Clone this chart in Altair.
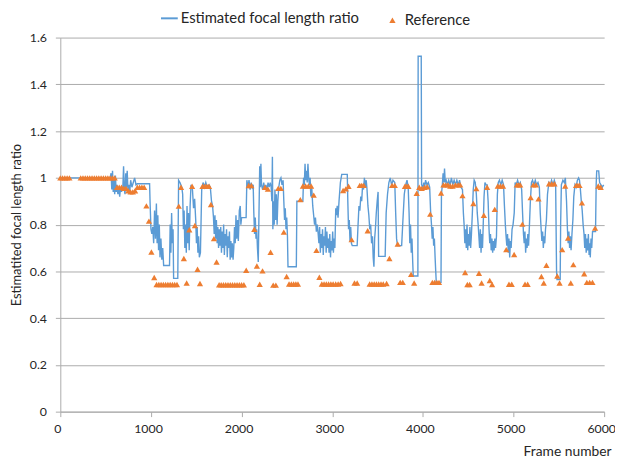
import altair as alt
import pandas as pd

# Estimated focal length ratio (frame, ratio)
est_points = [
    (0, 1.0), (550, 1.0),
    (560, 1.02), (568, 0.95), (576, 1.03), (584, 0.94), (592, 1.0), (600, 0.93), (608, 1.01), (616, 0.94),
    (625, 0.97), (635, 0.93), (645, 0.96), (655, 0.92), (665, 0.96), (675, 0.94), (690, 0.96), (698, 1.05),
    (706, 0.95), (714, 0.93), (722, 1.02), (730, 0.96), (738, 1.03), (746, 0.95), (756, 0.97), (766, 0.94),
    (776, 0.99), (790, 0.96), (805, 0.98), (820, 1.0), (835, 0.97), (850, 0.975),
    (985, 0.975), (990, 0.9), (1000, 0.78), (1010, 0.76), (1020, 0.79), (1030, 0.72), (1040, 0.86),
    (1050, 0.74), (1060, 0.89), (1068, 0.72), (1076, 0.84), (1084, 0.69), (1092, 0.8), (1100, 0.66),
    (1110, 0.74), (1120, 0.65), (1130, 0.7), (1140, 0.625),
    (1205, 0.625), (1212, 0.8), (1220, 0.68), (1228, 0.85), (1236, 0.72), (1244, 0.78), (1250, 0.57),
    (1296, 0.57), (1305, 0.99), (1320, 0.98), (1340, 0.96),
    (1350, 0.93), (1358, 0.78), (1366, 0.86), (1374, 0.7), (1382, 0.8), (1390, 0.68), (1398, 0.88),
    (1406, 0.72), (1414, 0.85), (1422, 0.69), (1432, 0.88), (1442, 0.97), (1458, 0.95), (1470, 0.87),
    (1482, 0.91), (1494, 0.82), (1502, 0.72), (1510, 0.79), (1518, 0.68), (1526, 0.75), (1534, 0.66),
    (1546, 0.68), (1560, 0.95), (1575, 0.98), (1590, 0.96), (1605, 0.98), (1620, 0.96), (1640, 0.97),
    (1655, 0.96), (1668, 0.9), (1680, 0.88), (1690, 0.83), (1698, 0.76), (1706, 0.84), (1714, 0.74),
    (1722, 0.82), (1730, 0.72), (1738, 0.79), (1746, 0.7), (1754, 0.78), (1762, 0.71), (1770, 0.79),
    (1778, 0.68), (1786, 0.77), (1794, 0.7), (1802, 0.8), (1810, 0.67), (1818, 0.76), (1826, 0.71),
    (1834, 0.78), (1842, 0.66), (1850, 0.75), (1858, 0.7), (1866, 0.77), (1874, 0.65), (1882, 0.73),
    (1890, 0.66), (1898, 0.72), (1906, 0.65), (1914, 0.7), (1922, 0.79), (1930, 0.72), (1938, 0.84),
    (1946, 0.74), (1956, 0.82), (1964, 0.73), (1975, 0.86), (1985, 0.88), (1992, 0.8), (2000, 0.83),
    (2050, 0.83), (2058, 0.99), (2070, 0.96), (2082, 0.99), (2094, 0.95), (2106, 0.98), (2118, 0.96),
    (2128, 0.97), (2135, 0.85), (2143, 0.76), (2151, 0.83), (2159, 0.74), (2167, 0.78), (2175, 0.7),
    (2184, 0.64), (2192, 0.85), (2200, 1.05), (2206, 0.96), (2213, 1.06), (2220, 0.97), (2232, 0.95),
    (2244, 0.98), (2256, 0.95), (2268, 0.97), (2280, 0.95), (2292, 0.98), (2304, 0.96), (2316, 0.98),
    (2326, 0.96), (2334, 0.9), (2340, 1.09), (2345, 0.78), (2352, 0.9), (2360, 0.8), (2368, 0.95),
    (2376, 0.82), (2384, 0.93), (2392, 0.8), (2400, 0.9), (2410, 0.96), (2422, 0.99), (2434, 1.0),
    (2446, 0.97), (2458, 0.99), (2466, 0.9), (2474, 0.82), (2482, 0.87), (2490, 0.78), (2498, 0.83),
    (2506, 0.75), (2512, 0.62), (2604, 0.62), (2610, 0.9), (2676, 0.9), (2684, 1.0), (2692, 0.97),
    (2700, 1.06), (2708, 0.99), (2716, 1.03), (2724, 0.98), (2732, 1.06), (2740, 1.0), (2748, 0.97),
    (2756, 1.0), (2764, 0.92), (2774, 0.96), (2785, 0.88), (2795, 0.84), (2805, 0.8), (2815, 0.83),
    (2825, 0.77), (2835, 0.8), (2845, 0.76), (2853, 0.72), (2861, 0.79), (2869, 0.68), (2877, 0.76),
    (2885, 0.7), (2893, 0.78), (2901, 0.67), (2909, 0.75), (2917, 0.71), (2925, 0.79), (2933, 0.68),
    (2941, 0.77), (2949, 0.7), (2957, 0.74), (2965, 0.68), (2973, 0.76), (2981, 0.66), (2989, 0.73),
    (2997, 0.69), (3005, 0.77), (3013, 0.68), (3021, 0.74), (3029, 0.7), (3039, 0.87), (3046, 0.84),
    (3055, 0.88), (3064, 0.83), (3075, 0.9), (3090, 0.98), (3105, 1.015), (3166, 1.015), (3172, 0.9),
    (3180, 0.78), (3188, 0.82), (3196, 0.73), (3204, 0.79), (3212, 0.72), (3221, 0.71), (3275, 0.71),
    (3285, 0.8), (3295, 0.88), (3305, 0.86), (3315, 0.92), (3325, 0.9), (3335, 0.97), (3345, 0.95),
    (3355, 1.0), (3365, 0.96), (3375, 0.99), (3384, 0.95), (3394, 0.88), (3404, 0.84), (3414, 0.78),
    (3424, 0.8), (3434, 0.72), (3444, 0.75), (3452, 0.66), (3460, 0.62), (3468, 0.74), (3476, 0.78),
    (3486, 0.85), (3496, 0.9), (3506, 0.94), (3512, 0.664), (3584, 0.664), (3595, 0.85), (3610, 0.93),
    (3625, 0.98), (3640, 1.0), (3655, 0.97), (3670, 0.99), (3690, 0.98), (3700, 0.85), (3710, 0.74),
    (3720, 0.71), (3766, 0.71), (3780, 0.82), (3795, 0.93), (3810, 0.97), (3825, 0.99), (3838, 0.96),
    (3848, 0.85), (3856, 0.72), (3864, 0.8), (3872, 0.68), (3880, 0.74), (3888, 0.64), (3894, 0.58),
    (3945, 0.58), (3948, 1.52), (3982, 1.52), (3986, 0.97), (4000, 0.96), (4010, 0.98), (4020, 0.96),
    (4030, 0.99), (4045, 0.97), (4060, 0.98), (4075, 0.96), (4085, 0.86), (4095, 0.8), (4103, 0.74),
    (4111, 0.79), (4119, 0.71), (4127, 0.74), (4135, 0.66), (4142, 0.6), (4148, 0.553), (4200, 0.553),
    (4205, 0.93), (4215, 0.97), (4223, 1.02), (4231, 0.98), (4239, 1.04), (4247, 0.98), (4257, 0.99),
    (4270, 0.97), (4285, 0.99), (4300, 0.97), (4315, 1.0), (4330, 0.97), (4345, 0.99), (4360, 0.97),
    (4375, 0.99), (4390, 0.97), (4405, 0.99), (4420, 0.96), (4437, 0.95), (4447, 0.85), (4455, 0.8),
    (4463, 0.72), (4471, 0.78), (4479, 0.7), (4487, 0.8), (4495, 0.69), (4503, 0.76), (4511, 0.71),
    (4519, 0.79), (4527, 0.7), (4535, 0.75), (4546, 0.85), (4556, 0.95), (4566, 0.99), (4578, 0.98),
    (4590, 0.93), (4600, 0.85), (4610, 0.8), (4618, 0.75), (4626, 0.7), (4634, 0.78), (4642, 0.68),
    (4650, 0.76), (4658, 0.7), (4666, 0.8), (4675, 0.92), (4685, 0.98), (4697, 0.97), (4709, 0.97),
    (4720, 0.9), (4730, 0.78), (4738, 0.72), (4746, 0.76), (4754, 0.69), (4762, 0.74), (4770, 0.68),
    (4778, 0.73), (4786, 0.69), (4794, 0.74), (4802, 0.7), (4812, 0.75), (4822, 0.93), (4832, 0.98),
    (4845, 0.99), (4860, 0.97), (4875, 0.99), (4890, 0.97), (4900, 0.88), (4910, 0.8), (4918, 0.75),
    (4926, 0.71), (4934, 0.76), (4942, 0.68), (4950, 0.74), (4958, 0.66), (4966, 0.73), (4974, 0.7),
    (4984, 0.78), (4995, 0.8), (5008, 0.85), (5018, 0.98), (5030, 0.97), (5045, 0.99), (5060, 0.97),
    (5075, 0.98), (5090, 0.95), (5100, 0.85), (5110, 0.76), (5118, 0.72), (5126, 0.77), (5134, 0.68),
    (5142, 0.74), (5150, 0.7), (5158, 0.76), (5166, 0.71), (5176, 0.8), (5186, 0.9), (5198, 0.98),
    (5210, 0.99), (5225, 0.97), (5240, 0.99), (5255, 0.97), (5270, 0.98), (5285, 0.96), (5295, 0.85),
    (5305, 0.78), (5313, 0.73), (5321, 0.77), (5329, 0.7), (5337, 0.75), (5345, 0.72), (5353, 0.78),
    (5363, 0.82), (5375, 0.93), (5390, 0.98), (5405, 0.97), (5420, 0.99), (5435, 0.97), (5450, 0.99),
    (5465, 0.97), (5475, 0.6), (5480, 0.565), (5515, 0.565), (5520, 0.8), (5528, 0.97), (5545, 0.99),
    (5560, 0.98), (5572, 1.0), (5585, 0.9), (5595, 0.78), (5603, 0.72), (5611, 0.77), (5619, 0.7),
    (5627, 0.75), (5635, 0.69), (5645, 0.76), (5655, 0.82), (5665, 0.92), (5678, 0.97), (5690, 0.96),
    (5705, 0.99), (5718, 1.0), (5728, 0.99), (5738, 0.95), (5748, 0.9), (5758, 0.86), (5768, 0.8),
    (5778, 0.76), (5786, 0.7), (5794, 0.76), (5802, 0.68), (5810, 0.74), (5818, 0.69), (5826, 0.76),
    (5834, 0.67), (5842, 0.72), (5847, 0.66), (5855, 0.74), (5863, 0.7), (5872, 0.77), (5905, 0.77),
    (5912, 0.97), (5918, 1.03), (5940, 1.03), (5950, 0.98), (5965, 0.97), (5980, 0.96), (5995, 0.97),
]

# Reference values (frame, ratio)
ref_points = [
    (0, 1.0), (25, 1.0), (50, 1.0), (75, 1.0), (100, 1.0),
    (225, 1.0), (250, 1.0), (275, 1.0), (300, 1.0), (325, 1.0), (350, 1.0), (375, 1.0), (400, 1.0),
    (425, 1.0), (450, 1.0), (475, 1.0), (500, 1.0), (525, 1.0), (550, 1.0), (575, 1.0), (600, 1.0),
    (625, 0.96), (650, 0.96), (675, 0.96), (700, 0.955), (725, 0.955),
    (750, 0.945), (775, 0.94), (800, 0.94), (825, 0.945),
    (850, 0.96), (875, 0.96), (900, 0.96), (925, 0.96),
    (950, 0.88), (978, 0.815), (1005, 0.683), (1036, 0.574),
    (1062, 0.544), (1087, 0.544), (1112, 0.544), (1137, 0.544), (1162, 0.544), (1187, 0.544),
    (1212, 0.544), (1237, 0.544), (1262, 0.544), (1287, 0.544),
    (1307, 0.879), (1332, 0.96), (1363, 0.655), (1394, 0.55), (1423, 0.778), (1454, 0.964),
    (1485, 0.796), (1514, 0.609), (1541, 0.548),
    (1569, 0.964), (1593, 0.964), (1617, 0.964), (1641, 0.964), (1662, 0.886), (1695, 0.74), (1724, 0.64),
    (1752, 0.543), (1775, 0.543), (1800, 0.543), (1825, 0.543), (1850, 0.543), (1875, 0.543),
    (1900, 0.543), (1925, 0.543), (1950, 0.543), (1975, 0.543), (2000, 0.543), (2025, 0.543),
    (2051, 0.605), (2078, 0.967), (2108, 0.967), (2140, 0.78), (2169, 0.623), (2200, 0.545),
    (2231, 0.602), (2258, 0.96), (2290, 0.952), (2320, 0.682), (2349, 0.541), (2378, 0.541),
    (2404, 0.955), (2433, 0.955), (2466, 0.768), (2497, 0.578),
    (2524, 0.546), (2549, 0.546), (2574, 0.546), (2599, 0.546), (2622, 0.546), (2648, 0.907),
    (2676, 0.965), (2706, 0.965), (2737, 0.965), (2767, 0.965), (2796, 0.926), (2826, 0.69), (2858, 0.575),
    (2885, 0.546), (2910, 0.546), (2935, 0.546), (2960, 0.546), (2985, 0.546), (3010, 0.546),
    (3038, 0.546), (3065, 0.546), (3092, 0.548),
    (3120, 0.946), (3150, 0.953), (3180, 0.964), (3214, 0.736), (3246, 0.55), (3275, 0.55),
    (3304, 0.968), (3326, 0.968), (3348, 0.968), (3391, 0.774),
    (3413, 0.546), (3438, 0.546), (3463, 0.546), (3488, 0.546), (3513, 0.546), (3538, 0.546),
    (3563, 0.546), (3600, 0.548),
    (3631, 0.655), (3660, 0.968), (3690, 0.968), (3722, 0.717), (3750, 0.553), (3778, 0.553),
    (3802, 0.964), (3820, 0.964), (3840, 0.964), (3870, 0.587), (3904, 0.55), (3932, 0.934),
    (3960, 0.96), (3988, 0.955), (4018, 0.96), (4048, 0.962), (4081, 0.845),
    (4105, 0.553), (4130, 0.553), (4155, 0.553), (4178, 0.553), (4201, 0.935),
    (4227, 0.97), (4252, 0.97), (4277, 0.97), (4302, 0.965), (4328, 0.965), (4360, 0.97),
    (4390, 0.97), (4412, 0.97),
    (4437, 0.924), (4466, 0.595), (4491, 0.544), (4516, 0.544), (4557, 0.89), (4590, 0.954),
    (4619, 0.592), (4648, 0.55), (4673, 0.84), (4709, 0.96), (4738, 0.561), (4764, 0.544), (4793, 0.865),
    (4826, 0.965), (4855, 0.965), (4884, 0.965), (4920, 0.693), (4950, 0.545), (4980, 0.545),
    (5007, 0.672), (5036, 0.97), (5055, 0.97), (5074, 0.97), (5098, 0.802), (5127, 0.545),
    (5156, 0.545), (5189, 0.916), (5218, 0.97), (5247, 0.97), (5276, 0.91), (5308, 0.578),
    (5334, 0.55), (5363, 0.626), (5392, 0.975), (5422, 0.975), (5452, 0.975), (5483, 0.58),
    (5508, 0.55), (5537, 0.693), (5570, 0.965), (5602, 0.743), (5632, 0.55), (5660, 0.629),
    (5690, 0.968), (5710, 0.968), (5728, 0.968), (5755, 0.893), (5780, 0.59), (5809, 0.553),
    (5840, 0.553), (5871, 0.553), (5900, 0.785), (5935, 0.965), (5962, 0.96),
]

series_names = ["Estimated focal length ratio", "Reference"]
series_colors = ["#5B9BD5", "#ED7D31"]
x_ticks = [0, 1000, 2000, 3000, 4000, 5000, 6000]
y_ticks = [0, 0.2, 0.4, 0.6, 0.8, 1.0, 1.2, 1.4, 1.6]

est_df = pd.DataFrame(est_points, columns=["frame", "ratio"])
est_df["series"] = series_names[0]
ref_df = pd.DataFrame(ref_points, columns=["frame", "ratio"])
ref_df["series"] = series_names[1]

FONT = "Lato"
TXT = "#262626"
GRID = "#ABABAB"

x_enc = alt.X(
    "frame:Q",
    scale=alt.Scale(domain=[0, 6000], nice=False, zero=False),
    axis=alt.Axis(
        values=x_ticks, format="d", grid=False, title="Frame number",
        titleX=558, titleY=44, titleAlign="right", titleBaseline="alphabetic",
        titleFont=FONT, titleFontSize=14, titleFontWeight="normal", titleColor=TXT,
        labelFont=FONT, labelFontSize=12.5, labelColor=TXT, labelPadding=6,
        labelOffset=-3, tickSize=5, tickColor=GRID, domainColor=GRID, labelFlush=False,
    ),
)
y_enc = alt.Y(
    "ratio:Q",
    scale=alt.Scale(domain=[0, 1.6], nice=False),
    axis=alt.Axis(
        values=y_ticks, format=".1~f", grid=True, gridColor=GRID, gridWidth=1,
        title="Estimatited focal length ratio", titleX=-44, titleY=189.5,
        titleAlign="center", titleBaseline="middle", titleAngle=-90,
        titleFont=FONT, titleFontSize=13, titleFontWeight="normal", titleColor=TXT,
        labelFont=FONT, labelFontSize=12.5, labelColor=TXT, labelPadding=9,
        tickSize=5, tickColor=GRID, domainColor=GRID,
    ),
)

line = alt.Chart(est_df).mark_line(strokeWidth=1.4).encode(
    x=x_enc,
    y=y_enc,
    color=alt.Color(
        "series:N",
        scale=alt.Scale(domain=[series_names[0]], range=[series_colors[0]]),
        legend=alt.Legend(
            title=None, orient="none", legendX=101, legendY=-29, padding=0,
            symbolType="stroke", symbolSize=289, symbolStrokeWidth=2,
            labelOffset=2, labelLimit=400, labelFont=FONT, labelFontSize=15, labelColor=TXT,
        ),
    ),
)

points = alt.Chart(ref_df).mark_point(
    shape="triangle-up", filled=True, size=40, opacity=1
).encode(
    x="frame:Q",
    y="ratio:Q",
    color=alt.Color(
        "series:N",
        scale=alt.Scale(domain=[series_names[1]], range=[series_colors[1]]),
        legend=alt.Legend(
            title=None, orient="none", legendX=329, legendY=-25, padding=0,
            symbolType="triangle-up", symbolSize=40, symbolOpacity=1,
            labelOffset=5, labelLimit=400, labelFont=FONT, labelFontSize=15, labelColor=TXT,
        ),
    ),
)

chart = (
    alt.layer(line, points)
    .resolve_scale(color="independent")
    .properties(
        width=551,
        height=379,
        autosize=alt.AutoSizeParams(type="none"),
        padding={"left": 53, "top": 27, "right": 11, "bottom": 45},
        background="white",
    )
    .configure_view(stroke=None)
)

chart.save("out.html", embed_options={"renderer": "svg", "actions": False})
